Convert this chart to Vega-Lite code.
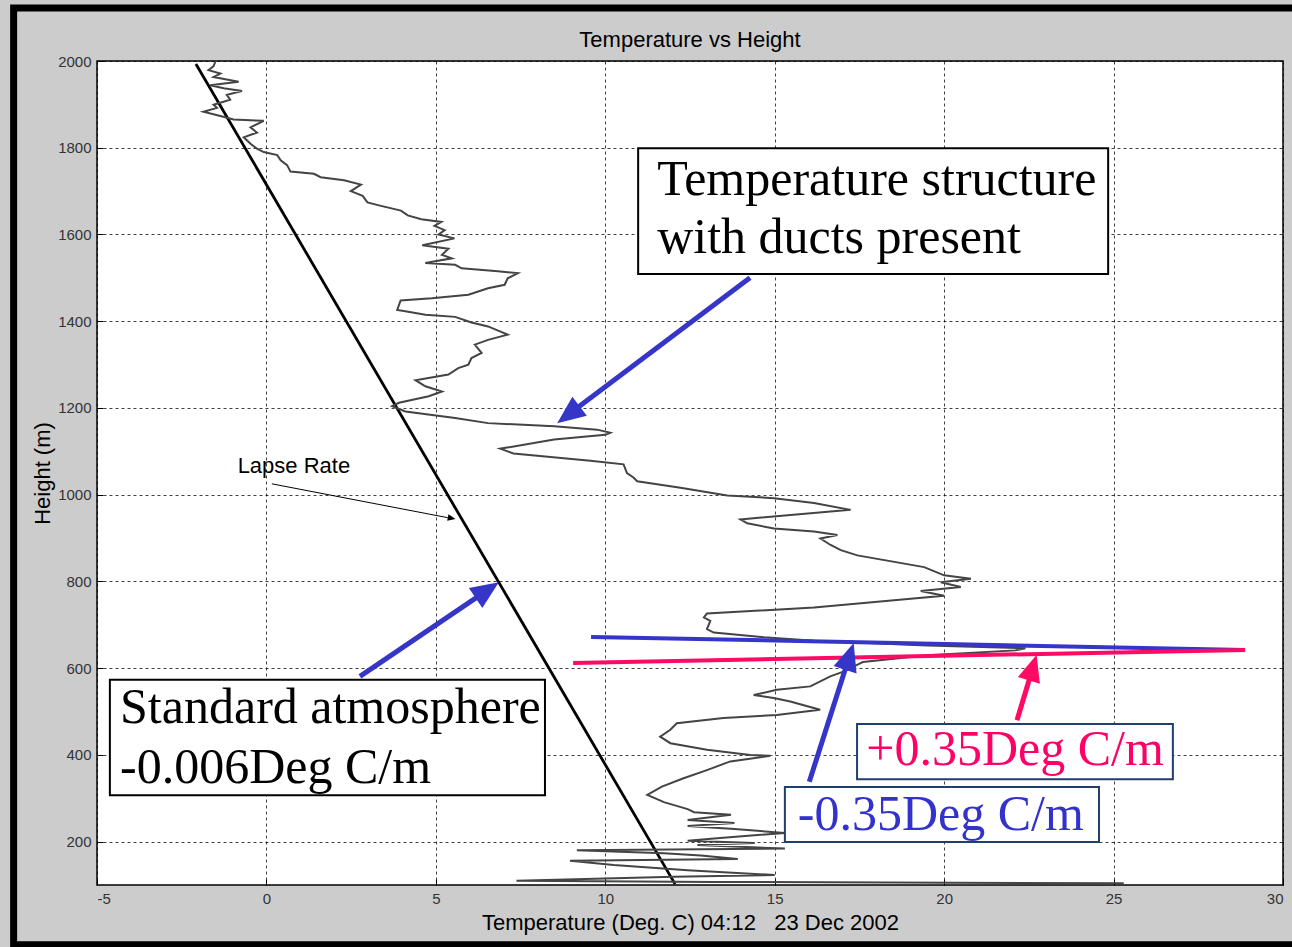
{
  "$schema": "https://vega.github.io/schema/vega-lite/v6.json",
  "width": 1186,
  "height": 824,
  "autosize": {"type": "none"},
  "padding": {"left": 97, "top": 61, "right": 9, "bottom": 62},
  "background": "#cccccc",
  "title": {"text": "Temperature vs Height", "font": "Liberation Sans", "fontSize": 22, "fontWeight": "normal", "color": "#000", "anchor": "middle", "frame": "group", "baseline": "alphabetic", "offset": -64},
  "config": {
    "view": {"fill": "white", "stroke": "black", "strokeWidth": 1.5},
    "axis": {
      "grid": true, "gridColor": "#000", "gridDash": [3, 3], "gridOpacity": 0.75, "gridWidth": 1,
      "domain": false, "ticks": true, "tickSize": -6, "tickColor": "#000", "tickWidth": 1,
      "labelFont": "Liberation Sans", "labelFontSize": 15, "labelColor": "#333", "labelPadding": 12,
      "labelExpr": "'' + datum.value",
      "titleFont": "Liberation Sans", "titleFontSize": 22, "titleFontWeight": "normal", "titleColor": "#000"
    }
  },
  "datasets": {
    "frame": [{"x": -7.46, "x2": 30.6, "y": 2122, "y2": -38}],
    "atmos": [{"x": -2.08, "y": 1993, "x2": 12.06, "y2": 102}],
    "profile": [
      {"t": -1.5, "h": 2000}, {"t": -1.56, "h": 1988}, {"t": -1.71, "h": 1979}, {"t": -1.36, "h": 1971},
      {"t": -1.56, "h": 1963}, {"t": -0.82, "h": 1952}, {"t": -1.66, "h": 1944}, {"t": -1.26, "h": 1937},
      {"t": -0.72, "h": 1931}, {"t": -1.17, "h": 1922}, {"t": -1.07, "h": 1911}, {"t": -1.56, "h": 1899},
      {"t": -1.46, "h": 1892}, {"t": -1.86, "h": 1883}, {"t": -1.36, "h": 1873}, {"t": -0.97, "h": 1865},
      {"t": -0.08, "h": 1862}, {"t": -0.47, "h": 1847}, {"t": -0.28, "h": 1835}, {"t": -0.67, "h": 1824},
      {"t": -0.47, "h": 1809}, {"t": -0.28, "h": 1798}, {"t": -0.08, "h": 1790}, {"t": 0.32, "h": 1783},
      {"t": 0.42, "h": 1771}, {"t": 0.61, "h": 1760}, {"t": 0.71, "h": 1745}, {"t": 1.4, "h": 1740},
      {"t": 1.6, "h": 1732}, {"t": 2.29, "h": 1725}, {"t": 2.79, "h": 1715}, {"t": 2.49, "h": 1700},
      {"t": 2.84, "h": 1689}, {"t": 2.98, "h": 1674}, {"t": 3.38, "h": 1666}, {"t": 3.97, "h": 1655},
      {"t": 4.17, "h": 1644}, {"t": 4.57, "h": 1635}, {"t": 5.16, "h": 1629}, {"t": 4.96, "h": 1620},
      {"t": 5.26, "h": 1610}, {"t": 5.08, "h": 1600}, {"t": 5.55, "h": 1591}, {"t": 4.6, "h": 1575},
      {"t": 5.37, "h": 1567}, {"t": 5.18, "h": 1553}, {"t": 5.47, "h": 1545}, {"t": 4.69, "h": 1534},
      {"t": 5.57, "h": 1530}, {"t": 5.76, "h": 1522}, {"t": 6.83, "h": 1515}, {"t": 7.42, "h": 1511},
      {"t": 7.12, "h": 1499}, {"t": 7.03, "h": 1484}, {"t": 6.54, "h": 1476}, {"t": 5.96, "h": 1461},
      {"t": 4.88, "h": 1453}, {"t": 3.96, "h": 1448}, {"t": 3.86, "h": 1426}, {"t": 4.1, "h": 1423},
      {"t": 4.69, "h": 1415}, {"t": 5.57, "h": 1410}, {"t": 6.05, "h": 1397}, {"t": 6.54, "h": 1388},
      {"t": 7.12, "h": 1369}, {"t": 6.54, "h": 1357}, {"t": 6.15, "h": 1346}, {"t": 6.35, "h": 1327},
      {"t": 6.05, "h": 1315}, {"t": 5.96, "h": 1300}, {"t": 5.66, "h": 1292}, {"t": 5.37, "h": 1277},
      {"t": 4.4, "h": 1264}, {"t": 4.69, "h": 1250}, {"t": 5.18, "h": 1238}, {"t": 4.79, "h": 1227},
      {"t": 3.91, "h": 1212}, {"t": 3.71, "h": 1204}, {"t": 4.1, "h": 1192}, {"t": 5.57, "h": 1177},
      {"t": 6.54, "h": 1165}, {"t": 8.49, "h": 1158}, {"t": 9.76, "h": 1150}, {"t": 10.15, "h": 1143},
      {"t": 10.0, "h": 1138}, {"t": 8.49, "h": 1127}, {"t": 6.9, "h": 1106}, {"t": 7.29, "h": 1095},
      {"t": 9.56, "h": 1078}, {"t": 10.54, "h": 1070}, {"t": 10.64, "h": 1050}, {"t": 10.84, "h": 1039},
      {"t": 10.94, "h": 1031}, {"t": 12.22, "h": 1016}, {"t": 13.6, "h": 998}, {"t": 14.98, "h": 992},
      {"t": 16.16, "h": 981}, {"t": 17.24, "h": 965}, {"t": 13.99, "h": 943}, {"t": 14.19, "h": 934},
      {"t": 14.98, "h": 922}, {"t": 16.16, "h": 915}, {"t": 16.85, "h": 907}, {"t": 16.35, "h": 899},
      {"t": 16.65, "h": 884}, {"t": 16.95, "h": 872}, {"t": 17.44, "h": 860}, {"t": 19.41, "h": 833},
      {"t": 20.0, "h": 814}, {"t": 20.79, "h": 806}, {"t": 19.9, "h": 798}, {"t": 20.49, "h": 787},
      {"t": 19.31, "h": 778}, {"t": 20.0, "h": 767}, {"t": 19.01, "h": 760}, {"t": 16.16, "h": 740},
      {"t": 13.0, "h": 726}, {"t": 12.91, "h": 717}, {"t": 13.1, "h": 709}, {"t": 13.0, "h": 690},
      {"t": 13.2, "h": 682}, {"t": 14.68, "h": 671}, {"t": 16.16, "h": 663}, {"t": 19.5, "h": 652},
      {"t": 22.4, "h": 646}, {"t": 22.1, "h": 641}, {"t": 19.5, "h": 630}, {"t": 17.6, "h": 614},
      {"t": 17.52, "h": 611}, {"t": 17.03, "h": 592}, {"t": 16.64, "h": 581}, {"t": 16.05, "h": 558},
      {"t": 15.06, "h": 550}, {"t": 14.38, "h": 538}, {"t": 14.97, "h": 531}, {"t": 15.46, "h": 523},
      {"t": 16.34, "h": 504}, {"t": 15.06, "h": 492}, {"t": 13.49, "h": 485}, {"t": 12.11, "h": 473},
      {"t": 11.92, "h": 458}, {"t": 11.62, "h": 442}, {"t": 11.92, "h": 427}, {"t": 13.0, "h": 412},
      {"t": 14.28, "h": 400}, {"t": 14.87, "h": 398}, {"t": 13.69, "h": 385}, {"t": 13.0, "h": 365},
      {"t": 12.31, "h": 346}, {"t": 11.67, "h": 327}, {"t": 11.24, "h": 308}, {"t": 11.73, "h": 291},
      {"t": 12.43, "h": 275}, {"t": 12.62, "h": 268}, {"t": 13.71, "h": 262}, {"t": 12.43, "h": 250},
      {"t": 13.81, "h": 243}, {"t": 12.43, "h": 236}, {"t": 13.81, "h": 229}, {"t": 15.3, "h": 220},
      {"t": 13.3, "h": 208}, {"t": 12.43, "h": 202}, {"t": 14.41, "h": 197}, {"t": 12.72, "h": 192},
      {"t": 15.3, "h": 184}, {"t": 9.16, "h": 180}, {"t": 11.73, "h": 173}, {"t": 12.82, "h": 168},
      {"t": 13.91, "h": 160}, {"t": 8.96, "h": 156}, {"t": 10.25, "h": 146}, {"t": 12.43, "h": 134},
      {"t": 15.0, "h": 123}, {"t": 12.03, "h": 119}, {"t": 7.38, "h": 110}, {"t": 13.22, "h": 107},
      {"t": 25.3, "h": 104}
    ],
    "boxes": [
      {"group": "note", "x": 10.97, "x2": 24.84, "y": 1799, "y2": 1509},
      {"group": "note", "x": -4.62, "x2": 8.22, "y": 573, "y2": 307},
      {"group": "warm", "x": 17.43, "x2": 26.75, "y": 471, "y2": 344},
      {"group": "cool", "x": 15.3, "x2": 24.57, "y": 326, "y2": 199}
    ],
    "labels": [
      {"group": "note", "x": 11.53, "y": 1725, "text": "Temperature structure"},
      {"group": "note", "x": 11.53, "y": 1592, "text": "with ducts present"},
      {"group": "note", "x": -4.32, "y": 508, "text": "Standard atmosphere"},
      {"group": "note", "x": -4.32, "y": 370, "text": "-0.006Deg C/m"},
      {"group": "warm", "x": 17.7, "y": 411, "text": "+0.35Deg C/m"},
      {"group": "cool", "x": 15.68, "y": 261, "text": "-0.35Deg C/m"}
    ],
    "coolLine": [{"x": 9.58, "y": 672, "x2": 28.88, "y2": 642}],
    "warmLine": [{"x": 9.05, "y": 612, "x2": 28.88, "y2": 642}],
    "blueArrows": [
      {"x": 14.27, "y": 1500, "x2": 9.05, "y2": 1193, "tx": 8.58, "ty": 1165, "angle": 233},
      {"x": 2.76, "y": 581, "x2": 6.37, "y2": 772, "tx": 6.86, "ty": 798, "angle": 56},
      {"x": 16.02, "y": 338, "x2": 17.15, "y2": 614, "tx": 17.33, "ty": 658, "angle": 17.7}
    ],
    "redArrows": [
      {"x": 22.15, "y": 480, "x2": 22.58, "y2": 591, "tx": 22.73, "ty": 631, "angle": 16.8}
    ],
    "lapse": [
      {"x": 0.16, "y": 1025, "x2": 5.35, "y2": 947, "tx": 5.58, "ty": 944, "angle": 101, "text": "Lapse Rate", "lx": -0.85, "ly": 1065}
    ]
  },
  "layer": [
    {
      "data": {"name": "frame"},
      "mark": {"type": "rect", "fill": "transparent", "stroke": "#000", "strokeWidth": 7},
      "encoding": {
        "x": {"field": "x", "type": "quantitative", "scale": {"domain": [-5, 30], "nice": false, "zero": false},
              "axis": {"values": [-5, 0, 5, 10, 15, 20, 25, 30], "title": "Temperature (Deg. C) 04:12\u00a0\u00a0\u00a023 Dec 2002", "titleY": 37, "titleBaseline": "middle"}},
        "x2": {"field": "x2"},
        "y": {"field": "y", "type": "quantitative", "scale": {"domain": [100, 2000], "nice": false, "zero": false},
              "axis": {"values": [200, 400, 600, 800, 1000, 1200, 1400, 1600, 1800, 2000], "title": "Height (m)", "titleX": -55, "titleY": 412, "titleBaseline": "middle"}},
        "y2": {"field": "y2"}
      }
    },
    {
      "data": {"name": "atmos"},
      "mark": {"type": "rule", "color": "#000", "strokeWidth": 2.8},
      "encoding": {
        "x": {"field": "x", "type": "quantitative"}, "x2": {"field": "x2"},
        "y": {"field": "y", "type": "quantitative"}, "y2": {"field": "y2"}
      }
    },
    {
      "data": {"name": "profile"},
      "mark": {"type": "line", "color": "#444444", "strokeWidth": 2},
      "encoding": {
        "x": {"field": "t", "type": "quantitative"},
        "y": {"field": "h", "type": "quantitative"},
        "order": {"value": null}
      }
    },
    {
      "data": {"name": "boxes"},
      "mark": {"type": "rect", "fill": "white", "strokeWidth": 2},
      "encoding": {
        "x": {"field": "x", "type": "quantitative"}, "x2": {"field": "x2"},
        "y": {"field": "y", "type": "quantitative"}, "y2": {"field": "y2"},
        "stroke": {"field": "group", "type": "nominal", "scale": {"domain": ["note", "warm", "cool"], "range": ["#000000", "#1f3f6e", "#1f3f6e"]}, "legend": null}
      }
    },
    {
      "data": {"name": "labels"},
      "mark": {"type": "text", "font": "Liberation Serif", "fontSize": 50, "align": "left", "baseline": "middle"},
      "encoding": {
        "x": {"field": "x", "type": "quantitative"},
        "y": {"field": "y", "type": "quantitative"},
        "text": {"field": "text"},
        "color": {"field": "group", "type": "nominal", "scale": {"domain": ["note", "warm", "cool"], "range": ["#000000", "#ff0066", "#3333cc"]}, "legend": null}
      }
    },
    {
      "data": {"name": "coolLine"},
      "mark": {"type": "rule", "color": "#3535c8", "strokeWidth": 4},
      "encoding": {
        "x": {"field": "x", "type": "quantitative"}, "x2": {"field": "x2"},
        "y": {"field": "y", "type": "quantitative"}, "y2": {"field": "y2"}
      }
    },
    {
      "data": {"name": "warmLine"},
      "mark": {"type": "rule", "color": "#ff0a64", "strokeWidth": 4},
      "encoding": {
        "x": {"field": "x", "type": "quantitative"}, "x2": {"field": "x2"},
        "y": {"field": "y", "type": "quantitative"}, "y2": {"field": "y2"}
      }
    },
    {
      "data": {"name": "blueArrows"},
      "mark": {"type": "rule", "color": "#3535c8", "strokeWidth": 5},
      "encoding": {
        "x": {"field": "x", "type": "quantitative"}, "x2": {"field": "x2"},
        "y": {"field": "y", "type": "quantitative"}, "y2": {"field": "y2"}
      }
    },
    {
      "data": {"name": "blueArrows"},
      "mark": {"type": "point", "shape": "M0,0L-0.5,1.17L0.5,1.17Z", "filled": true, "color": "#3535c8", "opacity": 1, "size": 2304, "strokeWidth": 0},
      "encoding": {
        "x": {"field": "tx", "type": "quantitative"},
        "y": {"field": "ty", "type": "quantitative"},
        "angle": {"field": "angle", "type": "quantitative", "scale": null}
      }
    },
    {
      "data": {"name": "redArrows"},
      "mark": {"type": "rule", "color": "#ff0a64", "strokeWidth": 5},
      "encoding": {
        "x": {"field": "x", "type": "quantitative"}, "x2": {"field": "x2"},
        "y": {"field": "y", "type": "quantitative"}, "y2": {"field": "y2"}
      }
    },
    {
      "data": {"name": "redArrows"},
      "mark": {"type": "point", "shape": "M0,0L-0.5,1.17L0.5,1.17Z", "filled": true, "color": "#ff0a64", "opacity": 1, "size": 2100, "strokeWidth": 0},
      "encoding": {
        "x": {"field": "tx", "type": "quantitative"},
        "y": {"field": "ty", "type": "quantitative"},
        "angle": {"field": "angle", "type": "quantitative", "scale": null}
      }
    },
    {
      "data": {"name": "lapse"},
      "mark": {"type": "rule", "color": "#000", "strokeWidth": 1},
      "encoding": {
        "x": {"field": "x", "type": "quantitative"}, "x2": {"field": "x2"},
        "y": {"field": "y", "type": "quantitative"}, "y2": {"field": "y2"}
      }
    },
    {
      "data": {"name": "lapse"},
      "mark": {"type": "point", "shape": "M0,0L-0.5,1.17L0.5,1.17Z", "filled": true, "color": "#000", "opacity": 1, "size": 180, "strokeWidth": 0},
      "encoding": {
        "x": {"field": "tx", "type": "quantitative"},
        "y": {"field": "ty", "type": "quantitative"},
        "angle": {"field": "angle", "type": "quantitative", "scale": null}
      }
    },
    {
      "data": {"name": "lapse"},
      "mark": {"type": "text", "font": "Liberation Sans", "fontSize": 22, "align": "left", "baseline": "middle", "color": "#000"},
      "encoding": {
        "x": {"field": "lx", "type": "quantitative"},
        "y": {"field": "ly", "type": "quantitative"},
        "text": {"field": "text"}
      }
    }
  ]
}
